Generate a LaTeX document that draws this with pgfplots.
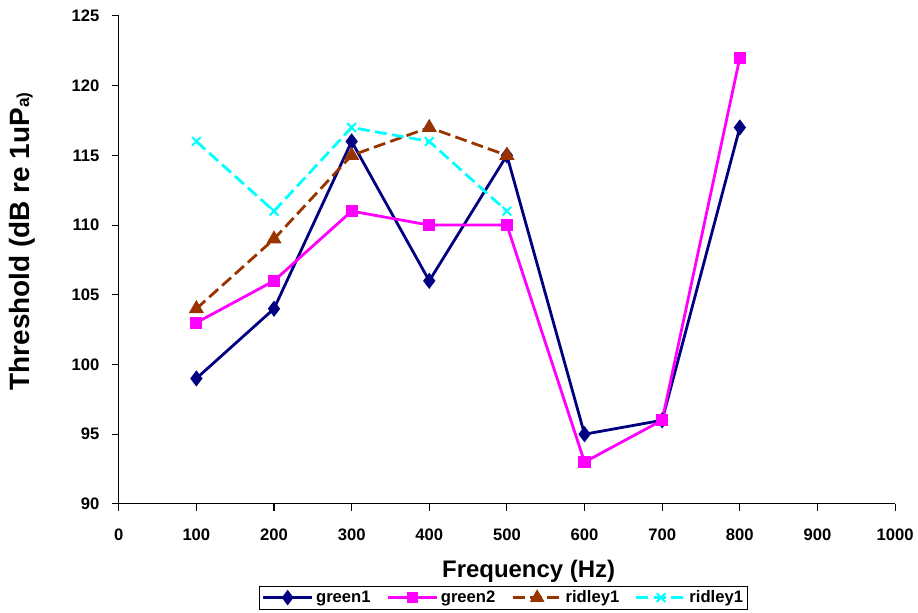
\documentclass[border=0pt]{standalone}
\usepackage{pgfplots}
\pgfplotsset{compat=1.18}
\usepackage{fontspec}
\setmainfont{Liberation Sans}
\definecolor{cnavy}{RGB}{0,0,128}
\definecolor{cmag}{RGB}{255,0,255}
\definecolor{cbrown}{RGB}{153,51,0}
\definecolor{ccyan}{RGB}{0,255,255}
\begin{document}
\begin{tikzpicture}
\path (-89.25pt,-81.75pt) rectangle (599.25pt,378.75pt);
\begin{axis}[
  at={(0,0)}, anchor=south west,
  scale only axis,
  width=583.5pt, height=366.75pt,
  xmin=0, xmax=1000, ymin=90, ymax=125,
  xtick={0,100,...,1000}, ytick={90,95,...,125},
  axis x line*=bottom, axis y line*=left,
  axis line style={line width=0.8pt, -},
  tick style={black, line width=0.8pt},
  tick align=outside,
  major tick length=5pt,
  /pgf/number format/assume math mode=true,
  /pgf/number format/1000 sep={},
  ticklabel style={font=\fontsize{12.5}{14}\selectfont\bfseries},
  xticklabel style={yshift=-10pt},
  yticklabel style={xshift=-6pt},
  xlabel={Frequency (Hz)},
  ylabel={Threshold (dB re 1uP{\fontsize{13}{15}\selectfont a)}},
  xlabel style={font=\fontsize{18}{20}\selectfont\bfseries, at={(axis description cs:0.528,-0.139)}, anchor=center},
  ylabel style={font=\fontsize{21}{24}\selectfont\bfseries, at={(axis description cs:-0.1247,0.538)}, anchor=center, rotate=0},
  legend columns=4,
  legend style={at={(axis description cs:0.496,-0.192)}, anchor=center,
    draw=black, line width=0.6pt, font=\fontsize{12.5}{14}\selectfont\bfseries,
    inner sep=1.5pt, /tikz/every even column/.append style={column sep=10pt}},
  legend image post style={line width=1.8pt},
  legend image code/.code={
    \draw[mark repeat=2,mark phase=2] plot coordinates {(0cm,0cm) (0.65cm,0cm) (1.3cm,0cm)};},
]
\addplot[color=cnavy, line width=2.1pt, mark=diamond*, mark size=4.4pt, mark options={solid, fill=cnavy}]
  coordinates {(100,99) (200,104) (300,116) (400,106) (500,115) (600,95) (700,96) (800,117)};
\addlegendentry{green1}
\addplot[color=cmag, line width=2.1pt, mark=square*, mark size=3.5pt, mark options={solid, fill=cmag}]
  coordinates {(100,103) (200,106) (300,111) (400,110) (500,110) (600,93) (700,96) (800,122)};
\addlegendentry{green2}
\addplot[color=cbrown, line width=2.1pt, dash pattern=on 9pt off 4pt, mark=triangle*, mark size=4.5pt, mark options={solid, fill=cbrown}]
  coordinates {(100,104) (200,109) (300,115) (400,117) (500,115)};
\addlegendentry{ridley1}
\addplot[color=ccyan, line width=2.1pt, dash pattern=on 9pt off 4pt, mark=x, mark size=4.6pt, mark options={solid, line width=1.5pt}]
  coordinates {(100,116) (200,111) (300,117) (400,116) (500,111)};
\addlegendentry{ridley1}
\end{axis}
\end{tikzpicture}
\end{document}
